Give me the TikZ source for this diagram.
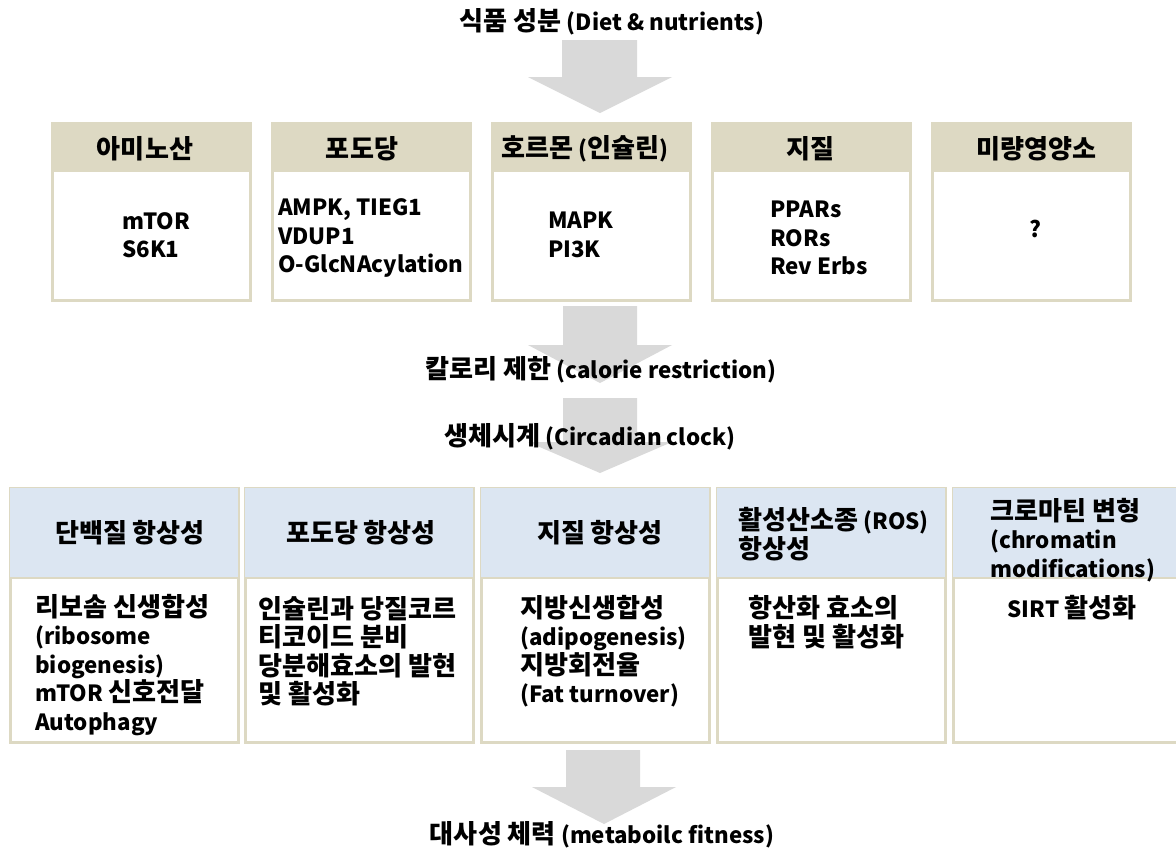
\documentclass[tikz,border=0pt]{standalone}
\usepackage{fontspec}
\setmainfont{Noto Sans CJK KR}
\newfontfamily\kofont{Noto Sans CJK KR}[Scale=1.17]
\newcommand\K[1]{{\kofont #1}}
\definecolor{arrowgray}{HTML}{D9D9D9}
\definecolor{beige}{HTML}{DDD9C3}
\definecolor{lightblue}{HTML}{DCE6F2}
\tikzset{
  blockarrow/.style={fill=arrowgray, draw=none},
  frame/.style={draw=beige, line width=3pt, fill=white},
  hdrtop/.style={fill=beige, draw=none},
  hdrbot/.style={fill=lightblue, draw=none},
  txt/.style={inner sep=0pt, align=left, font=\bfseries\fontsize{22.3}{28.5}\selectfont},
  title/.style={inner sep=0pt, font=\bfseries\fontsize{22.3}{28.5}\selectfont}
}
\begin{document}
\begin{tikzpicture}[x=1pt,y=-1pt]
\useasboundingbox[fill=white] (0,0) rectangle (1176,852);

% arrows
\fill[blockarrow] (562,40) -- (637,40) -- (637,77) -- (672,77) -- (600,113) -- (528,77) -- (562,77) -- cycle;
\fill[blockarrow] (563,306) -- (637,306) -- (637,345) -- (672,345) -- (600,383) -- (528,345) -- (563,345) -- cycle;
\fill[blockarrow] (563,398) -- (637,398) -- (637,442) -- (672,442) -- (600,473) -- (528,442) -- (563,442) -- cycle;
\fill[blockarrow] (566,750) -- (640,750) -- (640,787) -- (676,787) -- (604,824) -- (532,787) -- (566,787) -- cycle;

% titles
\node[title] (t1) at (612,22) {\K{식품 성분} (Diet \& nutrients)};
\node[title] (t2) at (601,370) {\K{칼로리 제한} (calorie restriction)};
\node[title] (t3) at (590,437) {\K{생체시계} (Circadian clock)};
\node[title] (t4) at (602,835) {\K{대사성 체력} (metaboilc fitness)};

% top boxes
\foreach \i/\x in {1/52,2/272,3/492,4/712,5/932}{
  \draw[frame] (\x,123) rectangle ++(198,177);
  \fill[hdrtop] (\x,123) rectangle ++(198,49);
}
\node[txt] (h1) at (145,149) {\K{아미노산}};
\node[txt] (h2) at (362,149) {\K{포도당}};
\node[txt] (h3) at (585,149) {\K{호르몬} (\K{인슐린})};
\node[txt] (h4) at (810,149) {\K{지질}};
\node[txt] (h5) at (1036,149) {\K{미량영양소}};

\node[txt, anchor=west] (b1) at (122,235) {mTOR\\S6K1};
\node[txt, anchor=west] (b2) at (278,238) {AMPK, TIEG1\\VDUP1\\O-GlcNAcylation};
\node[txt, anchor=west] (b3) at (548,235) {MAPK\\PI3K};
\node[txt, anchor=west] (b4) at (770,238) {PPARs\\RORs\\Rev Erbs};
\node[txt] (b5) at (1035,229) {?};

% bottom boxes
\begin{scope}
\clip (0,480) rectangle (1176,760);
\foreach \i/\x in {1/10,2/245,3/481,4/717,5/953}{
  \draw[frame] (\x,488) rectangle ++(228,254);
  \fill[hdrbot] (\x,488) rectangle ++(228,90);
  \draw[beige, line width=2pt] (\x,578) -- ++(228,0);
}
\end{scope}
\node[txt] (k1) at (130,533) {\K{단백질 항상성}};
\node[txt] (k2) at (361,533) {\K{포도당 항상성}};
\node[txt] (k3) at (600,533) {\K{지질 항상성}};
\node[txt, anchor=west] (k4) at (738,534) {\K{활성산소종} (ROS)\\\K{항상성}};
\node[txt, anchor=west] (k5) at (990,540) {\K{크로마틴 변형}\\(chromatin\\modifications)};

\node[txt, anchor=west] (c1) at (35,665) {\K{리보솜 신생합성}\\(ribosome\\biogenesis)\\mTOR \K{신호전달}\\Autophagy};
\node[txt, anchor=west] (c2) at (258,651) {\K{인슐린과 당질코르}\\\K{티코이드 분비}\\\K{당분해효소의 발현}\\\K{및 활성화}};
\node[txt, anchor=west] (c3) at (520,651) {\K{지방신생합성}\\(adipogenesis)\\\K{지방회전율}\\(Fat turnover)};
\node[txt, anchor=west] (c4) at (748,622) {\K{항산화 효소의}\\\K{발현 및 활성화}};
\node[txt] (c5) at (1072,608) {SIRT \K{활성화}};
\end{tikzpicture}
\end{document}
